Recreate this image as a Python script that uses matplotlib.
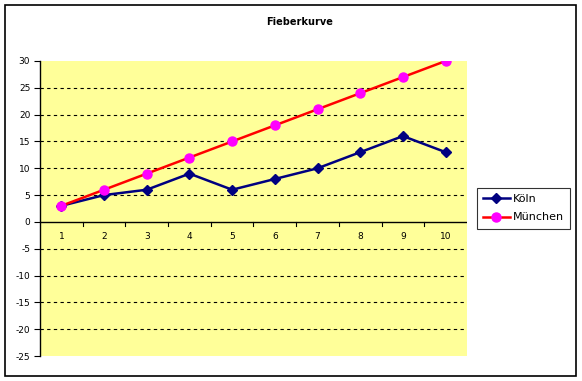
import matplotlib
matplotlib.use("Agg")
import matplotlib.pyplot as plt
from matplotlib.patches import Rectangle

categories = [1, 2, 3, 4, 5, 6, 7, 8, 9, 10]
koeln = [3, 5, 6, 9, 6, 8, 10, 13, 16, 13]
muenchen = [3, 6, 9, 12, 15, 18, 21, 24, 27, 30]
yticks = [-25, -20, -15, -10, -5, 0, 5, 10, 15, 20, 25, 30]

W, H = 582, 381
fig = plt.figure(figsize=(W / 100, H / 100), dpi=100)
fig.patch.set_facecolor("white")
fig.add_artist(Rectangle((5 / W, 1 - 376 / H), 571 / W, 371 / H, transform=fig.transFigure,
                         fill=False, edgecolor="black", linewidth=1.2))

left, right, top, bottom = 40, 467, 61, 356
ax = fig.add_axes([left / W, 1 - bottom / H, (right - left) / W, (bottom - top) / H])
ax.set_facecolor("#FFFF99")
ax.set_xlim(0.5, 10.5)
ax.set_ylim(-25, 30)

for v in yticks:
    if v not in (0, 30, -25):
        ax.axhline(v, color="black", linestyle=(0, (3, 3)), linewidth=0.8, zorder=1)
ax.axhline(0, color="black", linewidth=1.0, zorder=2)

x = list(range(1, len(categories) + 1))
ax.plot(x, koeln, color="#000080", linewidth=1.8, marker="D", markersize=5.5,
        markerfacecolor="#000080", markeredgecolor="#000080", label="Köln", zorder=3)
ax.plot(x, muenchen, color="#FF0000", linewidth=1.8, marker="o", markersize=6.5,
        markerfacecolor="#FF00FF", markeredgecolor="#FF00FF", label="München", zorder=4)

for s in ["top", "right", "bottom"]:
    ax.spines[s].set_visible(False)
ax.spines["left"].set_color("black")
ax.spines["left"].set_linewidth(1.0)

ax.set_yticks(yticks)
ax.set_yticklabels([str(v) for v in yticks])
ax.tick_params(axis="y", direction="out", length=4, width=0.8, labelsize=6.5, pad=3)

ax.set_xticks([])
for i, c in enumerate(categories):
    ax.text(x[i], -2.8, str(c), ha="center", va="center", fontsize=6.5)
for b in range(1, len(categories)):
    ax.plot([b + 0.5, b + 0.5], [0, -0.8], color="black", linewidth=0.8, clip_on=False, zorder=2)

fig.text(300 / W, 1 - 22 / H, "Fieberkurve", ha="center", va="center", fontsize=7, fontweight="bold")

leg = fig.legend(loc="upper left", bbox_to_anchor=(477 / W, 1 - 188 / H), fontsize=8,
                 frameon=True, fancybox=False, edgecolor="black", handlelength=2.4,
                 borderpad=0.55, labelspacing=0.75, handletextpad=0.25, borderaxespad=0)
leg.get_frame().set_linewidth(0.8)

fig.savefig("out.png", dpi=100)
